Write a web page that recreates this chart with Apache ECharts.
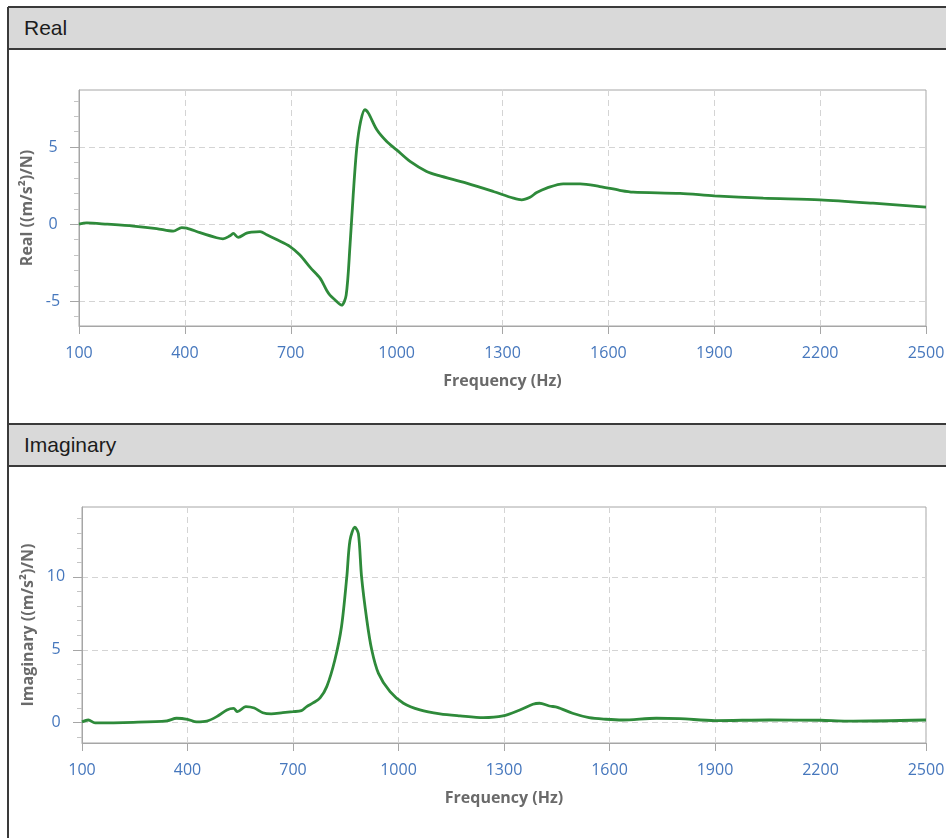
<!DOCTYPE html>
<html>
<head>
<meta charset="utf-8">
<script src="https://cdn.jsdelivr.net/npm/echarts@6/dist/echarts.min.js"></script>
<style>
  html, body { margin: 0; padding: 0; background: #fff; overflow: hidden; }
  #page { position: relative; width: 946px; height: 838px; overflow: hidden; }
  .frame { position: absolute; left: 7px; top: 7px; width: 2px; height: 831px; background: #3a3a3a; }
  .header {
    position: absolute; left: 8px; width: 922px; height: 40px;
    background: #d9d9d9; border-top: 2px solid #3a3a3a; border-bottom: 2px solid #3a3a3a;
    font-family: "Liberation Sans", Arial, sans-serif; font-size: 21px; color: #1c1c1c;
    line-height: 40px; padding-left: 16px;
  }
  #chart { position: absolute; left: 0; top: 0; width: 946px; height: 838px; }
</style>
</head>
<body>
<div id="page">
  <div class="header" style="top:6px">Real</div>
  <div class="header" style="top:423px">Imaginary</div>
  <div class="frame"></div>
  <div id="chart"></div>
</div>
<script>
// frequency response
const realFreq = [100, 122, 180, 254, 320, 367, 391, 405, 443, 490, 508, 528, 537, 551, 575, 589, 613, 632, 660, 698,
  726, 755, 783, 802, 811, 825, 844, 857, 868, 877, 887, 898, 910, 920, 944, 972, 1000, 1038, 1085, 1118, 1198,
  1274, 1331, 1354, 1378, 1397, 1425, 1472, 1520, 1576, 1632, 1670, 1803, 1900, 2039, 2200, 2350, 2500];
const realValues = [0.0, 0.08, 0.0, -0.12, -0.28, -0.45, -0.22, -0.25, -0.55, -0.88, -0.95, -0.75, -0.6, -0.85, -0.58, -0.52, -0.48, -0.68, -1.0, -1.45,
  -2.0, -2.8, -3.5, -4.3, -4.6, -4.9, -5.25, -4.6, -1.34, 1.9, 4.93, 6.66, 7.42, 7.2, 6.12, 5.36, 4.82, 4.07, 3.42, 3.16, 2.66,
  2.12, 1.69, 1.58, 1.75, 2.05, 2.34, 2.62, 2.62, 2.44, 2.2, 2.08, 2.0, 1.84, 1.69, 1.58, 1.36, 1.1];

const imagFreq = [100, 118, 137, 246, 341, 369, 400, 426, 455, 483, 512, 531, 542, 566, 590, 614, 638, 671, 700, 724,
  739, 757, 777, 796, 819, 838, 853, 862, 876, 886, 895, 910, 924, 943, 976, 1014, 1061, 1118, 1175,
  1241, 1297, 1345, 1382, 1401, 1429, 1452, 1495, 1542, 1590, 1637, 1733, 1800, 1900, 2055, 2200, 2275, 2500];
const imagValues = [0.05, 0.18, -0.02, 0.02, 0.12, 0.3, 0.23, 0.05, 0.1, 0.41, 0.87, 0.98, 0.75, 1.1, 1.0, 0.68, 0.6, 0.68, 0.75, 0.82,
  1.1, 1.35, 1.7, 2.47, 4.3, 6.6, 10.0, 12.5, 13.42, 12.97, 10.0, 7.03, 4.98, 3.38, 2.12, 1.33, 0.87, 0.6, 0.46,
  0.34, 0.46, 0.87, 1.26, 1.33, 1.14, 1.05, 0.64, 0.34, 0.23, 0.18, 0.3, 0.27, 0.14, 0.18, 0.16, 0.1, 0.18];

const realTicks = [-5, 0, 5];
const realMinorTicks = [-6, -4, -3, -2, -1, 1, 2, 3, 4, 6, 7, 8];
const imagTicks = [0, 5, 10];
const imagMinorTicks = [-1, 1, 2, 3, 4, 6, 7, 8, 9, 11, 12, 13, 14];

const labelColor = '#4677bd';
const axisColor = '#a6a6a6';
const gridColor = '#d4d4d4';
const lineColor = '#2e8a3a';
const font = '"Open Sans", "Noto Sans", sans-serif';

const zip = (xs, ys) => xs.map((x, i) => [x, ys[i]]);
const nameStyle = { fontFamily: font, fontWeight: 'bold', fontSize: 16, color: '#6a6a6a' };

function freqAxis(gridIndex) {
  return {
    type: 'value', gridIndex, min: 100, max: 2500, interval: 300,
    name: 'Frequency (Hz)', nameLocation: 'middle', nameGap: 47,
    nameTextStyle: nameStyle,
    axisLine: { show: true, onZero: false, lineStyle: { color: axisColor } },
    axisTick: { show: true, length: 8, lineStyle: { color: axisColor } },
    axisLabel: { color: labelColor, fontSize: 16, fontFamily: font, margin: 19, formatter: v => String(v) },
    splitLine: { show: true, lineStyle: { color: gridColor, type: [6, 4] } }
  };
}

function valueAxis(gridIndex, name, min, max, ticks, gap) {
  return {
    type: 'value', gridIndex, position: 'left', min, max,
    name, nameLocation: 'middle', nameGap: gap,
    nameTextStyle: nameStyle,
    axisLine: { show: true, onZero: false, lineStyle: { color: axisColor } },
    axisTick: { show: true, length: 9, customValues: ticks, lineStyle: { color: axisColor } },
    axisLabel: { color: labelColor, fontSize: 16, fontFamily: font, margin: 26, align: 'center', customValues: ticks },
    splitLine: { show: true, lineStyle: { color: gridColor, type: [6, 4] } }
  };
}

function minorAxis(gridIndex, min, max, ticks) {
  return {
    type: 'value', gridIndex, position: 'left', min, max,
    axisLine: { show: false, onZero: false },
    axisTick: { show: true, length: 5, customValues: ticks, lineStyle: { color: '#c4c4c4' } },
    axisLabel: { show: false },
    splitLine: { show: false }
  };
}

const chart = echarts.init(document.getElementById('chart'));
chart.setOption({
  animation: false,
  grid: [
    { left: 79, top: 90, width: 847, height: 236, show: true, borderColor: axisColor, borderWidth: 1, outerBoundsMode: 'none' },
    { left: 82, top: 507, width: 844, height: 236, show: true, borderColor: axisColor, borderWidth: 1, outerBoundsMode: 'none' }
  ],
  xAxis: [freqAxis(0), freqAxis(1)],
  yAxis: [
    valueAxis(0, 'Real ((m/s²)/N)', -6.6, 8.7, realTicks, 42),
    minorAxis(0, -6.6, 8.7, realMinorTicks),
    valueAxis(1, 'Imaginary ((m/s²)/N)', -1.4, 14.8, imagTicks, 44),
    minorAxis(1, -1.4, 14.8, imagMinorTicks)
  ],
  series: [
    {
      type: 'line', xAxisIndex: 0, yAxisIndex: 0, data: zip(realFreq, realValues),
      showSymbol: false, smooth: 0.3,
      lineStyle: { color: lineColor, width: 2.8 }
    },
    {
      type: 'line', xAxisIndex: 1, yAxisIndex: 2, data: zip(imagFreq, imagValues),
      showSymbol: false, smooth: 0.3,
      lineStyle: { color: lineColor, width: 2.8 }
    }
  ]
});
</script>
</body>
</html>
